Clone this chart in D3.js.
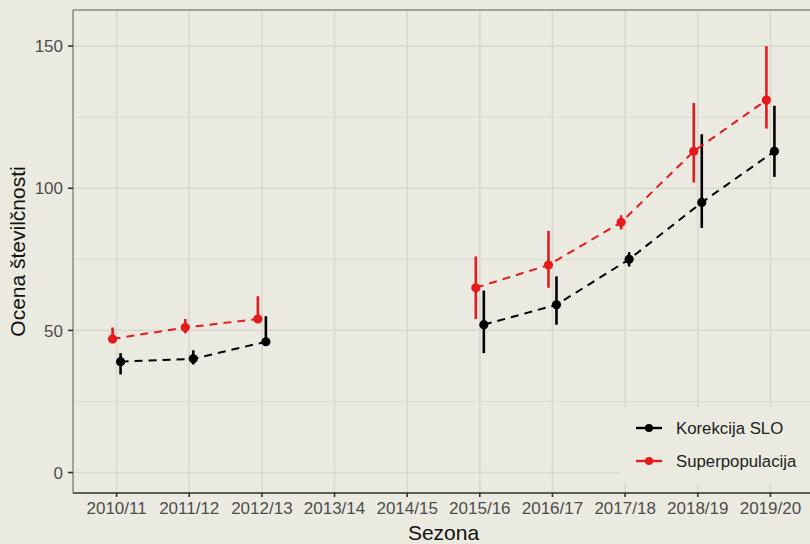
<!DOCTYPE html>
<html>
<head>
<meta charset="utf-8">
<script src="https://cdn.jsdelivr.net/npm/d3@7"></script>
<style>
  body { margin: 0; background: #ebeae0; }
  svg { display: block; font-family: "Liberation Sans", Arial, sans-serif; }
</style>
</head>
<body>
<svg width="810" height="544"></svg>
<script>
// seasons on the x axis
const seasons = ["2010/11", "2011/12", "2012/13", "2013/14", "2014/15",
                 "2015/16", "2016/17", "2017/18", "2018/19", "2019/20"];

// Korekcija SLO: estimate, lower, upper
const korVal = [39, 40, 46, null, null, 52, 59, 75, 95, 113];
const korLo  = [34.5, 38, 46, null, null, 42, 52, 72.5, 86, 104];
const korHi  = [42, 43, 55, null, null, 64, 69, 77.5, 119, 129];

// Superpopulacija: estimate, lower, upper
const supVal = [47, 51, 54, null, null, 65, 73, 88, 113, 131];
const supLo  = [45.5, 49, 53, null, null, 54, 65, 85.5, 102, 121];
const supHi  = [51, 54, 62, null, null, 76, 85, 90.5, 130, 150];

const yTicks = [0, 50, 100, 150];
const yMinor = [25, 75, 125];

const series = [
  { name: "Korekcija SLO", color: "#000000", dodge: 4, val: korVal, lo: korLo, hi: korHi },
  { name: "Superpopulacija", color: "#e41a1c", dodge: -4, val: supVal, lo: supLo, hi: supHi }
];

const bg = "#ebeae0";
const gridCol = "#dad9cf";
const panel = { left: 73, top: 10, right: 814, bottom: 493 };

const svg = d3.select("svg");
svg.append("rect").attr("width", 810).attr("height", 544).attr("fill", bg);

const x = d3.scalePoint()
  .domain(seasons)
  .range([panel.left, panel.right])
  .padding(0.6);

const y = d3.scaleLinear()
  .domain([-7.2, 162.7])
  .range([panel.bottom, panel.top]);

// grid
const grid = svg.append("g");
grid.selectAll(".minor").data(yMinor).join("line")
  .attr("x1", panel.left).attr("x2", panel.right)
  .attr("y1", d => y(d)).attr("y2", d => y(d))
  .attr("stroke", gridCol).attr("stroke-width", 0.9);
grid.selectAll(".major").data(yTicks).join("line")
  .attr("x1", panel.left).attr("x2", panel.right)
  .attr("y1", d => y(d)).attr("y2", d => y(d))
  .attr("stroke", gridCol).attr("stroke-width", 1.6);
grid.selectAll(".vert").data(seasons).join("line")
  .attr("x1", d => x(d)).attr("x2", d => x(d))
  .attr("y1", panel.top).attr("y2", panel.bottom)
  .attr("stroke", gridCol).attr("stroke-width", 1.6);

// panel border top + left
svg.append("line")
  .attr("x1", panel.left).attr("x2", panel.right)
  .attr("y1", panel.top).attr("y2", panel.top)
  .attr("stroke", "#8a8a85").attr("stroke-width", 1.5);
svg.append("line")
  .attr("x1", panel.left).attr("x2", panel.left)
  .attr("y1", panel.top).attr("y2", panel.bottom)
  .attr("stroke", "#8a8a85").attr("stroke-width", 1.5);

// series
series.forEach(s => {
  const pts = seasons.map((k, i) => ({ k, v: s.val[i], lo: s.lo[i], hi: s.hi[i] }));
  const line = d3.line()
    .defined(d => d.v != null)
    .x(d => x(d.k) + s.dodge)
    .y(d => y(d.v));
  const g = svg.append("g");
  g.append("path").datum(pts)
    .attr("d", line)
    .attr("fill", "none")
    .attr("stroke", s.color)
    .attr("stroke-width", 2)
    .attr("stroke-dasharray", "8,6");
  const ok = pts.filter(d => d.v != null);
  g.selectAll(".err").data(ok).join("line")
    .attr("x1", d => x(d.k) + s.dodge).attr("x2", d => x(d.k) + s.dodge)
    .attr("y1", d => y(d.lo)).attr("y2", d => y(d.hi))
    .attr("stroke", s.color).attr("stroke-width", 2.6);
  g.selectAll(".pt").data(ok).join("circle")
    .attr("cx", d => x(d.k) + s.dodge)
    .attr("cy", d => y(d.v))
    .attr("r", 4.6)
    .attr("fill", s.color);
});

// bottom axis
const xAxis = svg.append("g").attr("transform", `translate(0,${panel.bottom})`);
xAxis.append("line")
  .attr("x1", panel.left).attr("x2", panel.right)
  .attr("stroke", "#5e5e5a").attr("stroke-width", 2);
xAxis.selectAll(".tk").data(seasons).join("line")
  .attr("x1", d => x(d)).attr("x2", d => x(d))
  .attr("y1", 0).attr("y2", 4)
  .attr("stroke", "#333").attr("stroke-width", 1.6);
xAxis.selectAll("text").data(seasons).join("text")
  .attr("x", d => x(d)).attr("y", 21)
  .attr("text-anchor", "middle")
  .attr("font-size", 17)
  .attr("fill", "#4d4d4d")
  .text(d => d);

// left axis
const yAxis = svg.append("g");
yAxis.selectAll(".tk").data(yTicks).join("line")
  .attr("x1", panel.left - 5).attr("x2", panel.left)
  .attr("y1", d => y(d)).attr("y2", d => y(d))
  .attr("stroke", "#333").attr("stroke-width", 1.6);
yAxis.selectAll("text").data(yTicks).join("text")
  .attr("x", panel.left - 10).attr("y", d => y(d))
  .attr("dy", "0.36em")
  .attr("text-anchor", "end")
  .attr("font-size", 17)
  .attr("fill", "#4d4d4d")
  .text(d => d);

// titles
svg.append("text")
  .attr("x", (panel.left + panel.right) / 2).attr("y", 540)
  .attr("text-anchor", "middle").attr("font-size", 21).attr("fill", "#111")
  .text("Sezona");
svg.append("text")
  .attr("transform", `translate(25,${(panel.top + panel.bottom) / 2}) rotate(-90)`)
  .attr("text-anchor", "middle").attr("font-size", 21).attr("fill", "#111")
  .text("Ocena številčnosti");

// legend
const leg = svg.append("g");
leg.append("rect")
  .attr("x", 620).attr("y", 407).attr("width", 194).attr("height", 76)
  .attr("fill", bg);
series.forEach((s, i) => {
  const ly = 428 + i * 33;
  leg.append("line")
    .attr("x1", 636).attr("x2", 662).attr("y1", ly).attr("y2", ly)
    .attr("stroke", s.color).attr("stroke-width", 2.4);
  leg.append("circle").attr("cx", 649).attr("cy", ly).attr("r", 4).attr("fill", s.color);
  leg.append("text")
    .attr("x", 676).attr("y", ly).attr("dy", "0.36em")
    .attr("font-size", 16.8).attr("fill", "#222")
    .text(s.name);
});
</script>
</body>
</html>
